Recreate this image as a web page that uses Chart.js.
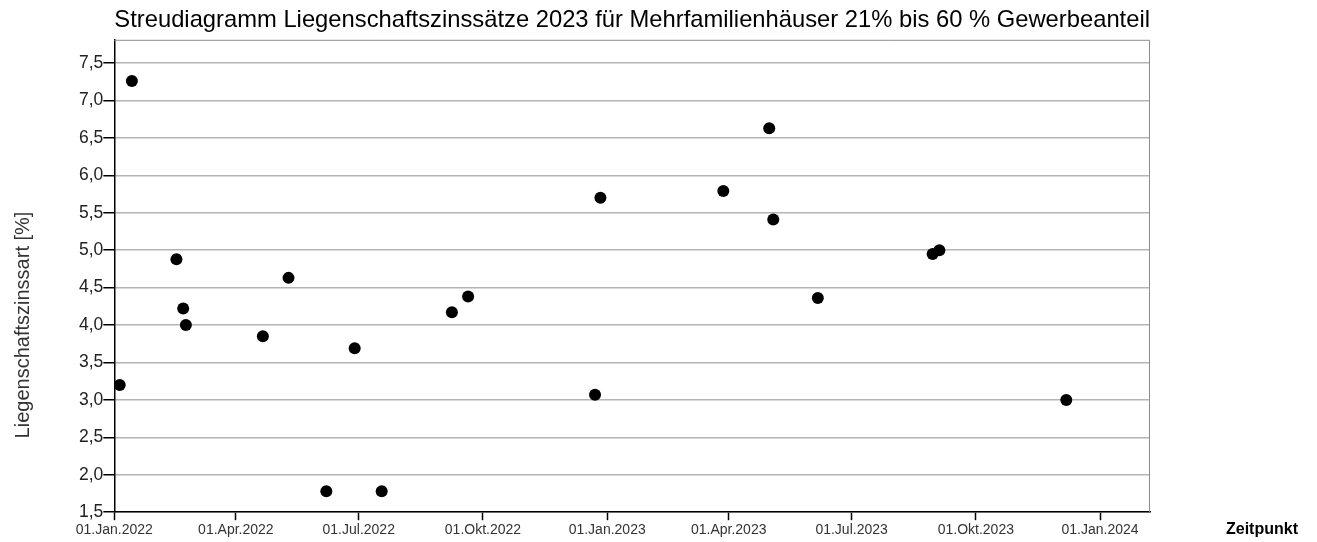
<!DOCTYPE html>
<html>
<head>
<meta charset="utf-8">
<script src="https://cdn.jsdelivr.net/npm/chart.js@4/dist/chart.umd.min.js"></script>
<style>
  body { margin: 0; background: #fff; }
  #wrap { width: 1317px; height: 542px; position: relative; }
</style>
</head>
<body>
<div id="wrap"><canvas id="chart"></canvas></div>
<script>
// Datum der Kauffälle und Liegenschaftszinssatz [%]
const dates = [
  '2022-01-05', '2022-01-14', '2022-02-16', '2022-02-21', '2022-02-23',
  '2022-04-21', '2022-05-10', '2022-06-07', '2022-06-28', '2022-07-18',
  '2022-09-08', '2022-09-20', '2022-12-23', '2022-12-27', '2023-03-28',
  '2023-05-01', '2023-05-04', '2023-06-06', '2023-08-30', '2023-09-04',
  '2023-12-07'
];
const rates = [
  3.20, 7.26, 4.88, 4.22, 4.00,
  3.85, 4.63, 1.78, 3.69, 1.78,
  4.17, 4.38, 3.07, 5.70, 5.79,
  6.63, 5.41, 4.36, 4.95, 5.00,
  3.00
];
const xTickDates = ['2022-01-01', '2022-04-01', '2022-07-01', '2022-10-01', '2023-01-01',
  '2023-04-01', '2023-07-01', '2023-10-01', '2024-01-01'];
const xTickLabels = ['01.Jan.2022', '01.Apr.2022', '01.Jul.2022', '01.Okt.2022', '01.Jan.2023',
  '01.Apr.2023', '01.Jul.2023', '01.Okt.2023', '01.Jan.2024'];
const yTicks = [1.5, 2.0, 2.5, 3.0, 3.5, 4.0, 4.5, 5.0, 5.5, 6.0, 6.5, 7.0, 7.5];

const titleText = 'Streudiagramm Liegenschaftszinssätze 2023 für Mehrfamilienhäuser 21% bis 60 % Gewerbeanteil';
const yTitle = 'Liegenschaftszinssart [%]';
const xTitle = 'Zeitpunkt';

// Tage seit 01.01.2022
const origin = Date.UTC(2022, 0, 1);
function toDay(s) {
  const p = s.split('-').map(Number);
  return (Date.UTC(p[0], p[1] - 1, p[2]) - origin) / 86400000;
}
const xTickDays = xTickDates.map(toDay);
const points = dates.map((d, i) => ({x: toDay(d), y: rates[i]}));

const font = "Arial, 'Liberation Sans', sans-serif";

const extras = {
  id: 'extras',
  beforeDatasetsDraw(chart) {
    const a = chart.chartArea, ctx = chart.ctx;
    ctx.save();
    ctx.strokeStyle = '#8c8c8c';
    ctx.lineWidth = 1;
    ctx.beginPath();
    ctx.moveTo(a.left, a.top + 0.5);
    ctx.lineTo(a.right - 0.5, a.top + 0.5);
    ctx.lineTo(a.right - 0.5, a.bottom);
    ctx.stroke();
    ctx.restore();
  },
  afterDraw(chart) {
    const ctx = chart.ctx;
    ctx.save();
    ctx.fillStyle = '#333';
    ctx.font = '20px ' + font;
    ctx.translate(23, 325);
    ctx.rotate(-Math.PI / 2);
    ctx.textAlign = 'center';
    ctx.textBaseline = 'middle';
    ctx.fillText(yTitle, 0, 0);
    ctx.restore();

    ctx.save();
    ctx.fillStyle = '#000';
    ctx.font = 'bold 16px ' + font;
    ctx.textAlign = 'center';
    ctx.textBaseline = 'middle';
    ctx.fillText(xTitle, 1262, 530);
    ctx.restore();
  }
};

new Chart(document.getElementById('chart'), {
  type: 'scatter',
  data: {
    datasets: [{
      data: points,
      backgroundColor: '#000',
      borderColor: '#000',
      borderWidth: 0,
      pointRadius: 6,
      pointHoverRadius: 6
    }]
  },
  options: {
    responsive: true,
    maintainAspectRatio: false,
    animation: false,
    layout: {padding: {left: 79, right: 167, top: 6, bottom: 1}},
    plugins: {
      legend: {display: false},
      tooltip: {enabled: false},
      title: {
        display: true,
        text: titleText,
        fullSize: false,
        color: '#000',
        font: {family: font, size: 24, weight: 'normal'},
        padding: {top: 0, bottom: 5}
      }
    },
    scales: {
      x: {
        type: 'linear',
        min: 0,
        max: toDay('2024-02-07'),
        afterBuildTicks: axis => { axis.ticks = xTickDays.map(v => ({value: v})); },
        ticks: {
          autoSkip: false,
          maxRotation: 0,
          padding: 2,
          color: '#333',
          font: {family: font, size: 14},
          callback: (v) => xTickLabels[xTickDays.indexOf(v)]
        },
        grid: {drawOnChartArea: false, tickLength: 8, tickColor: '#000', tickWidth: 1.5},
        border: {color: '#000', width: 1.5}
      },
      y: {
        min: 1.5,
        max: 7.81,
        afterBuildTicks: axis => { axis.ticks = yTicks.map(v => ({value: v})); },
        ticks: {
          padding: 0,
          color: '#222',
          font: {family: font, size: 17.5},
          callback: v => v.toFixed(1).replace('.', ',')
        },
        grid: {color: '#b4b4b4', lineWidth: 1.5, tickLength: 11, tickColor: '#000'},
        border: {color: '#000', width: 1.5}
      }
    }
  },
  plugins: [extras]
});
</script>
</body>
</html>
